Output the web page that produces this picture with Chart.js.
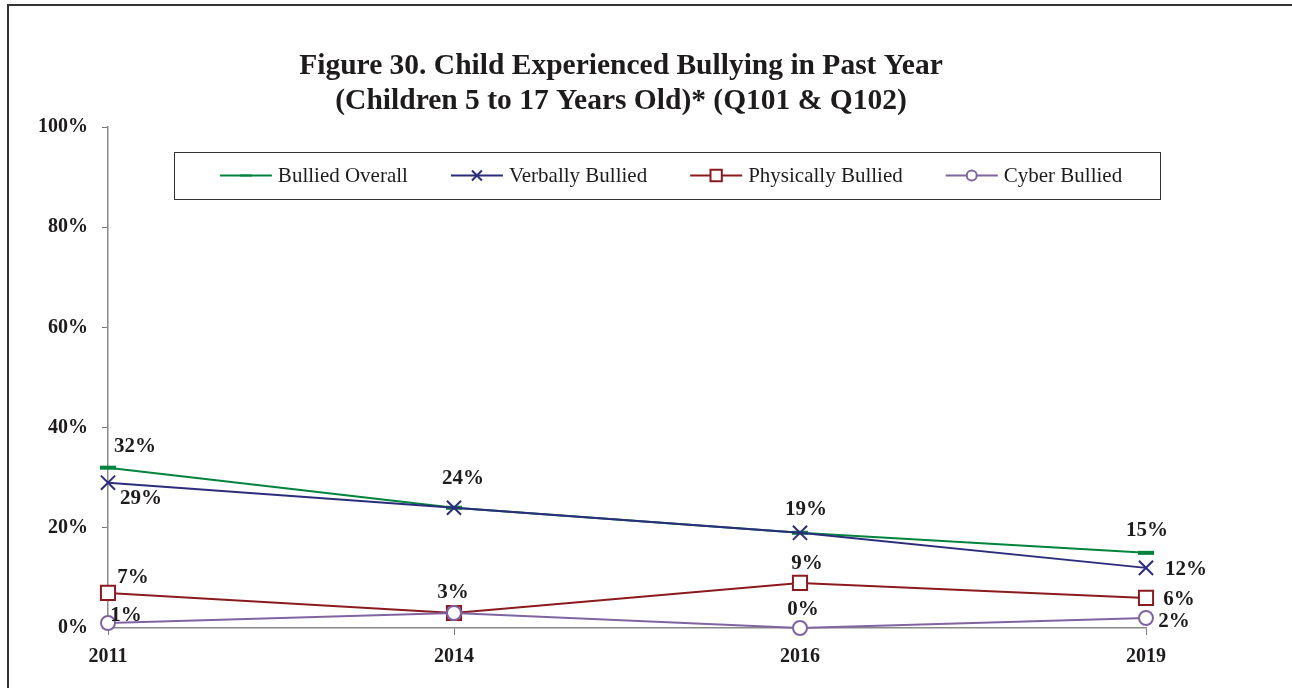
<!DOCTYPE html>
<html>
<head>
<meta charset="utf-8">
<script src="https://cdn.jsdelivr.net/npm/chart.js"></script>
<style>
  html, body { margin: 0; padding: 0; background: #fff; }
  #wrap { position: relative; width: 1292px; height: 688px; overflow: hidden; }
</style>
</head>
<body>
<div id="wrap"><canvas id="chart" width="1292" height="688"></canvas></div>
<script>
// survey years and share of children (%) per bullying type
const years = ['2011', '2014', '2016', '2019'];
const bulliedOverall = [32, 24, 19, 15];
const verballyBullied = [29, 24, 19, 12];
const physicallyBullied = [7, 3, 9, 6];
const cyberBullied = [1, 3, 0, 2];
const yTicks = [0, 20, 40, 60, 80, 100];

const titleLines = [
  'Figure 30. Child Experienced Bullying in Past Year',
  '(Children 5 to 17 Years Old)* (Q101 & Q102)'
];

const SERIF = '"Liberation Serif", "Times New Roman", serif';
const TEXT = '#1e1b1c';

// where each value label sits relative to its point (null = not shown, overlaps another)
const labelOffsets = [
  [[27, -21], null, null, [1, -22]],
  [[33, 16], [9, -29], [6, -23], [40, 2]],
  [[25, -15], [-1, -20], [7, -19], [33, 2]],
  [[18, -7], null, [3, -18], [28, 4]]
];

// legend markers are drawn smaller than the ones on the lines
const legendMarks = [
  { pointStyle: 'line', radius: 6, borderWidth: 4 },
  { pointStyle: 'crossRot', radius: 7, borderWidth: 1.5 },
  { pointStyle: 'rect', radius: 8, borderWidth: 1.5 },
  { pointStyle: 'circle', radius: 5, borderWidth: 1.5 }
];

const framePlugin = {
  id: 'frame',
  afterDraw(chart) {
    const ctx = chart.ctx;
    ctx.save();
    ctx.strokeStyle = '#333';
    ctx.lineWidth = 2;
    ctx.strokeRect(8, 5, 1320, 720);

    // title
    ctx.fillStyle = TEXT;
    ctx.font = 'bold 29.5px ' + SERIF;
    ctx.textAlign = 'center';
    ctx.textBaseline = 'middle';
    ctx.fillText(titleLines[0], 621, 66);
    ctx.fillText(titleLines[1], 621, 101);

    // legend box
    const box = { left: 174, top: 152, right: 1160, bottom: 199 };
    ctx.lineWidth = 1;
    ctx.strokeStyle = '#333';
    ctx.strokeRect(box.left + 0.5, box.top + 0.5, box.right - box.left, box.bottom - box.top);

    ctx.font = '21px ' + SERIF;
    ctx.textAlign = 'left';
    const lineLen = 52, gapText = 6, gapItem = 43;
    const items = chart.data.datasets.map(d => ({ ds: d, w: ctx.measureText(d.label).width }));
    const total = items.reduce((s, it) => s + lineLen + gapText + it.w, 0) + gapItem * (items.length - 1);
    let x = (box.left + box.right) / 2 - total / 2 + 4;
    const y = (box.top + box.bottom) / 2;
    items.forEach((it, i) => {
      ctx.strokeStyle = it.ds.borderColor;
      ctx.lineWidth = 2;
      ctx.beginPath();
      ctx.moveTo(x, y);
      ctx.lineTo(x + lineLen, y);
      ctx.stroke();
      ctx.fillStyle = '#fff';
      Chart.helpers.drawPoint(ctx, Object.assign({ rotation: 0 }, legendMarks[i]), x + lineLen / 2, y);
      ctx.fillStyle = TEXT;
      ctx.fillText(it.ds.label, x + lineLen + gapText, y + 1);
      x += lineLen + gapText + it.w + gapItem;
    });
    ctx.restore();
  }
};

const valueLabels = {
  id: 'valueLabels',
  afterDatasetsDraw(chart) {
    const ctx = chart.ctx;
    ctx.save();
    ctx.font = 'bold 21px ' + SERIF;
    ctx.fillStyle = TEXT;
    ctx.textAlign = 'center';
    ctx.textBaseline = 'middle';
    chart.data.datasets.forEach((ds, i) => {
      chart.getDatasetMeta(i).data.forEach((pt, j) => {
        const off = labelOffsets[i][j];
        if (!off) return;
        ctx.fillText(ds.data[j] + '%', pt.x + off[0], pt.y + off[1]);
      });
    });
    ctx.restore();
  }
};

function series(label, data, color, style, radius, width, order) {
  return {
    label, data, order,
    borderColor: color,
    backgroundColor: '#fff',
    borderWidth: 2,
    pointStyle: style,
    pointRadius: radius,
    pointBorderColor: color,
    pointBackgroundColor: style === 'line' ? color : '#fff',
    pointBorderWidth: width,
    tension: 0,
    clip: false
  };
}

new Chart(document.getElementById('chart'), {
  type: 'line',
  data: {
    labels: years,
    datasets: [
      series('Bullied Overall', bulliedOverall, '#00843d', 'line', 8, 4, 4),
      series('Verbally Bullied', verballyBullied, '#2b2d7c', 'crossRot', 10, 2, 3),
      series('Physically Bullied', physicallyBullied, '#8b1a1e', 'rect', 10, 2, 2),
      series('Cyber Bullied', cyberBullied, '#8064a2', 'circle', 7, 2, 1)
    ]
  },
  options: {
    responsive: false,
    animation: false,
    layout: { padding: { left: 24, right: 146, top: 127, bottom: 9 } },
    plugins: {
      legend: { display: false },
      title: { display: false },
      tooltip: { enabled: false }
    },
    scales: {
      x: {
        offset: false,
        grid: { drawOnChartArea: false, tickLength: 7, color: '#777' },
        border: { color: '#888', width: 1.5 },
        ticks: { color: TEXT, padding: 10, font: { family: SERIF, size: 20, weight: 'bold' } }
      },
      y: {
        min: 0,
        max: 100,
        afterBuildTicks(scale) { scale.ticks = yTicks.map(v => ({ value: v })); },
        grid: { drawOnChartArea: false, tickLength: 6, color: '#777' },
        border: { color: '#888', width: 1.5 },
        ticks: {
          color: TEXT, padding: 14,
          font: { family: SERIF, size: 20, weight: 'bold' },
          callback: v => v + '%'
        }
      }
    }
  },
  plugins: [framePlugin, valueLabels]
});
</script>
</body>
</html>
